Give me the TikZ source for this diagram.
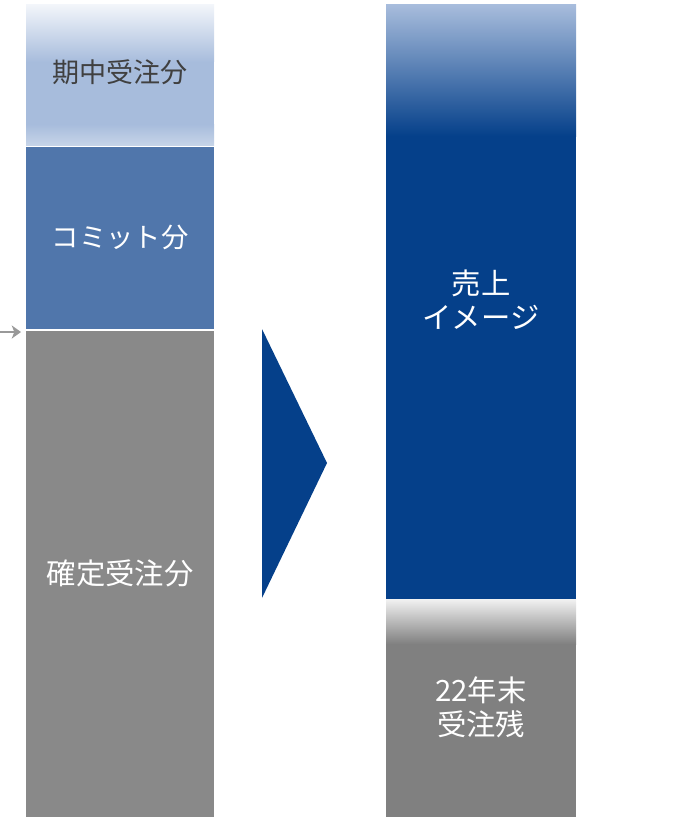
\documentclass[tikz,border=0pt]{standalone}
\usepackage{fontspec}
\newfontfamily\jp{Noto Sans CJK JP}
\usetikzlibrary{arrows.meta}
\begin{document}
\begin{tikzpicture}[x=0.75pt,y=-0.75pt,
    lbl/.style={font=\jp\fontsize{22}{25.5}\selectfont,align=center,text=white},
    lbldark/.style={lbl,font=\jp\fontsize{20.3}{25.5}\selectfont,text=gtext}]
    % colores
    \definecolor{lblue}{HTML}{A7BCDC}
    \definecolor{lblue2}{HTML}{C6D4E8}
    \definecolor{top0}{HTML}{F2F5FA}
    \definecolor{mblue}{HTML}{5076AB}
    \definecolor{dblue}{HTML}{05408A}
    \definecolor{gleft}{HTML}{898989}
    \definecolor{gright}{HTML}{808080}
    \definecolor{gpale}{HTML}{F2F2F2}
    \definecolor{gtext}{HTML}{404040}
    \definecolor{garrow}{HTML}{999999}
    \useasboundingbox (0,0) rectangle (674,817);

    % barra izquierda
    \fill[lblue] (26,5) rectangle (214,145);
    \shade[top color=top0,bottom color=lblue] (26,5) rectangle (214,62);
    \shade[top color=lblue,bottom color=lblue2] (26,124) rectangle (214,145);
    \fill[mblue] (26,147) rectangle (214,329);
    \fill[gleft] (26,331) rectangle (214,817);
    \node[lbldark] (kichu) at (120,72) {期中受注分};
    \node[lbl,font=\jp\fontsize{20.5}{25.5}\selectfont] (commit) at (120,237) {コミット分};
    \node[lbl] (kakutei) at (120,573) {確定受注分};

    % flecha gris
    \coordinate (mark) at (0,332);
    \coordinate (edge) at (21,332);
    \draw[draw=garrow,fill=garrow,line width=2.2pt,-{Stealth[length=7pt,width=10pt,inset=2pt,line width=0pt]}] (mark) -- (edge);

    % triangulo
    \fill[dblue] (262,329) -- (327,463) -- (262,598) -- cycle;

    % barra derecha
    \fill[dblue] (386,5) rectangle (576,599);
    \shade[top color=lblue,bottom color=dblue] (386,5) rectangle (576,136);
    \fill[gright] (386,599) rectangle (576,817);
    \shade[top color=gpale,bottom color=gright] (386,599) rectangle (576,644);
    \node[lbl] (uriage) at (481,300) {売上\\イメージ};
    \node[lbl] (zan) at (481,707) {22年末\\受注残};
\end{tikzpicture}
\end{document}
